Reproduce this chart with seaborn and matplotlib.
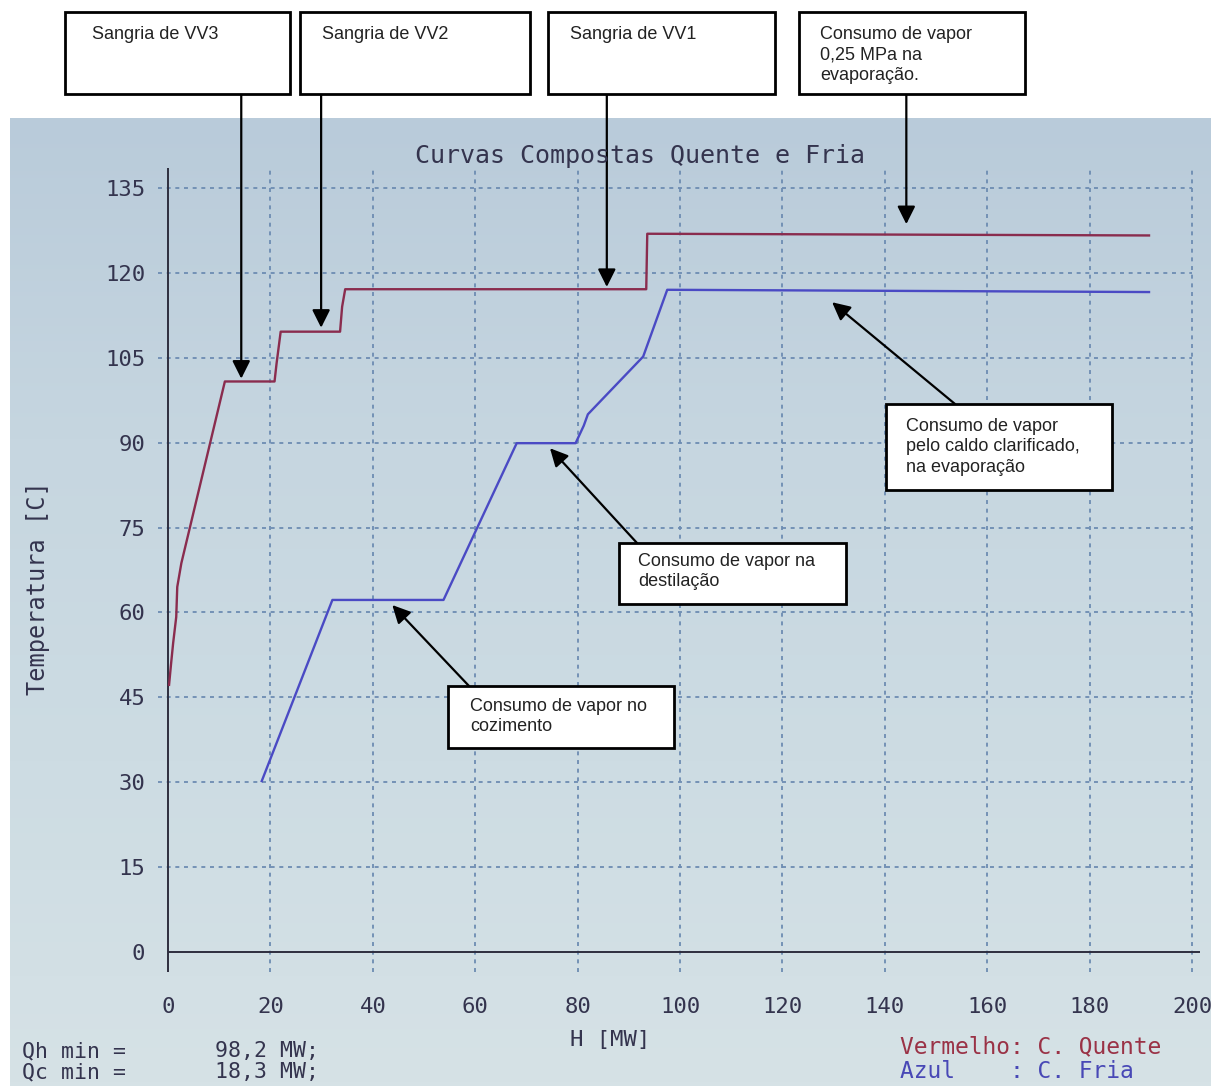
import numpy as np
import pandas as pd
import matplotlib
matplotlib.use("Agg")
import matplotlib.pyplot as plt
import matplotlib.transforms as mtransforms
from matplotlib.patches import Rectangle
from matplotlib.colors import LinearSegmentedColormap
import seaborn as sns

# curva composta quente (vermelho)
h_quente = [0.2, 0.6, 1.0, 1.6, 1.8, 2.6, 11.1, 20.8, 21.2, 22.0, 33.6, 34.0, 34.6, 93.4, 93.6, 191.6]
t_quente = [47.2, 51.0, 54.6, 59.2, 64.5, 68.7, 100.8, 100.8, 104.0, 109.6, 109.6, 114.0, 117.1, 117.1, 126.9, 126.6]
# curva composta fria (azul)
h_fria = [18.3, 32.1, 53.8, 68.1, 79.6, 81.2, 82.0, 92.8, 97.5, 191.6]
t_fria = [30.2, 62.2, 62.2, 89.9, 89.9, 93.0, 95.0, 105.2, 117.0, 116.6]

x_ticks = list(range(0, 201, 20))
y_ticks = list(range(0, 136, 15))

notas_topo = ["Sangria de VV3", "Sangria de VV2", "Sangria de VV1",
              "Consumo de vapor\n0,25 MPa na\nevaporação."]
alvos_topo = [(14.3, 101.3), (29.9, 110.3), (85.7, 117.5), (144.2, 128.6)]
notas_baixo = ["Consumo de vapor\npelo caldo clarificado,\nna evaporação",
               "Consumo de vapor na\ndestilação",
               "Consumo de vapor no\ncozimento"]
alvos_baixo = [(129.7, 114.8), (74.6, 89.0), (43.8, 61.3)]

qmin = ["98,2 MW;", "18,3 MW;"]

W, H = 1211, 1086
fig = plt.figure(figsize=(W / 100, H / 100), dpi=100)
fig.patch.set_facecolor("white")

def fx(x):
    return x / W

def fy(y):
    return 1 - y / H

mono = "DejaVu Sans Mono"
cor_txt = "#34344e"

# fundo da tela (foto do monitor)
bg = fig.add_axes([fx(10), 0, 1 - fx(10), 1 - 118 / H], zorder=-5)
cmap_bg = LinearSegmentedColormap.from_list("tela", ["#b9cbda", "#c6d6e0", "#cddce3", "#d6e2e6"])
bg.imshow(np.linspace(0, 1, 256).reshape(-1, 1), aspect="auto", cmap=cmap_bg,
          extent=[0, 1, 0, 1], origin="upper")
bg.set_axis_off()

ax = fig.add_axes([fx(157.8), fy(971.8), fx(1199.7) - fx(157.8), fy(168.1) - fy(971.8)])
ax.set_facecolor("none")
ax.set_xlim(-2, 201.5)
ax.set_ylim(-3.5, 138.5)

grid_kw = dict(color="#6d8cb2", lw=1.3, linestyles=(0, (2.2, 2.6)), zorder=1)
ax.hlines(y_ticks[1:], -2, 200, **grid_kw)
ax.vlines(x_ticks[1:], -3.5, 138.5, **grid_kw)
ax.hlines(0, 0, 201.5, color="#2e2e3e", lw=1.4, zorder=2)
ax.axvline(0, color="#2e2e3e", lw=1.4, zorder=2)

sns.lineplot(x=h_quente, y=t_quente, sort=False, estimator=None, color="#8a2c4e", lw=1.7, ax=ax, zorder=3)
sns.lineplot(x=h_fria, y=t_fria, sort=False, estimator=None, color="#4a4ac4", lw=1.7, ax=ax, zorder=3)

ax.set_xticks(x_ticks)
ax.set_yticks(y_ticks)
ax.tick_params(length=0, labelsize=16, labelcolor=cor_txt)
ax.tick_params(axis="x", pad=18)
ax.tick_params(axis="y", pad=9)
for lab in ax.get_xticklabels() + ax.get_yticklabels():
    lab.set_family(mono)
for s in ax.spines.values():
    s.set_visible(False)
ax.set_xlabel("")
ax.set_ylabel("")

fig.text(fx(640), fy(156), "Curvas Compostas Quente e Fria", ha="center", va="center",
         family=mono, size=18, color=cor_txt)
fig.text(fx(38), fy(588), "Temperatura [C]", rotation=90, ha="center", va="center",
         family=mono, size=17, color=cor_txt)
fig.text(fx(610), fy(1040), "H [MW]", ha="center", va="center", family=mono, size=16, color=cor_txt)

fig.text(fx(22), fy(1051), "Qh min =", ha="left", va="center", family=mono, size=15.5, color=cor_txt)
fig.text(fx(22), fy(1072), "Qc min =", ha="left", va="center", family=mono, size=15.5, color=cor_txt)
fig.text(fx(215), fy(1051), qmin[0], ha="left", va="center", family=mono, size=15.5, color=cor_txt)
fig.text(fx(215), fy(1072), qmin[1], ha="left", va="center", family=mono, size=15.5, color=cor_txt)
fig.text(fx(900), fy(1047), "Vermelho: C. Quente", ha="left", va="center", family=mono, size=16.5, color="#9a3246")
fig.text(fx(900), fy(1071), "Azul    : C. Fria", ha="left", va="center", family=mono, size=16.5, color="#4848b6")

# caixas de anotacao
box_kw = dict(facecolor="white", edgecolor="black", lw=2, transform=fig.transFigure, zorder=5)
arrow_kw = dict(arrowstyle="-|>", color="black", lw=1.6, mutation_scale=27, shrinkA=0, shrinkB=0)

caixas_topo = [(65, 290), (300, 530), (548, 775), (799, 1025)]
texto_topo = [92, 322, 570, 820]
blend = mtransforms.blended_transform_factory(ax.transData, fig.transFigure)
for (x0, x1), tx, nota, alvo in zip(caixas_topo, texto_topo, notas_topo, alvos_topo):
    fig.add_artist(Rectangle((fx(x0), fy(94)), fx(x1) - fx(x0), fy(12) - fy(94), **box_kw))
    fig.text(fx(tx), fy(26), nota, ha="left", va="top", family="Liberation Sans", size=13,
             color="#222222", linespacing=1.25, zorder=6)
    ax.annotate("", xy=alvo, xycoords="data", xytext=(alvo[0], fy(95)), textcoords=blend,
                arrowprops=arrow_kw, annotation_clip=False, zorder=4)

caixas_baixo = [(886, 404, 1112, 490), (619, 543, 846, 604), (448, 686, 674, 748)]
texto_baixo = [(906, 418), (638, 553), (470, 698)]
inicio_seta = [(955, 404), (637, 543), (469, 686)]
for (x0, y0, x1, y1), (tx, ty), (sx, sy), nota, alvo in zip(caixas_baixo, texto_baixo, inicio_seta,
                                                           notas_baixo, alvos_baixo):
    fig.add_artist(Rectangle((fx(x0), fy(y1)), fx(x1) - fx(x0), fy(y0) - fy(y1), **box_kw))
    fig.text(fx(tx), fy(ty), nota, ha="left", va="top", family="Liberation Sans", size=13,
             color="#222222", linespacing=1.25, zorder=6)
    ax.annotate("", xy=alvo, xycoords="data", xytext=(fx(sx), fy(sy)), textcoords="figure fraction",
                arrowprops=arrow_kw, annotation_clip=False, zorder=4)

fig.savefig("out.png", dpi=100)
